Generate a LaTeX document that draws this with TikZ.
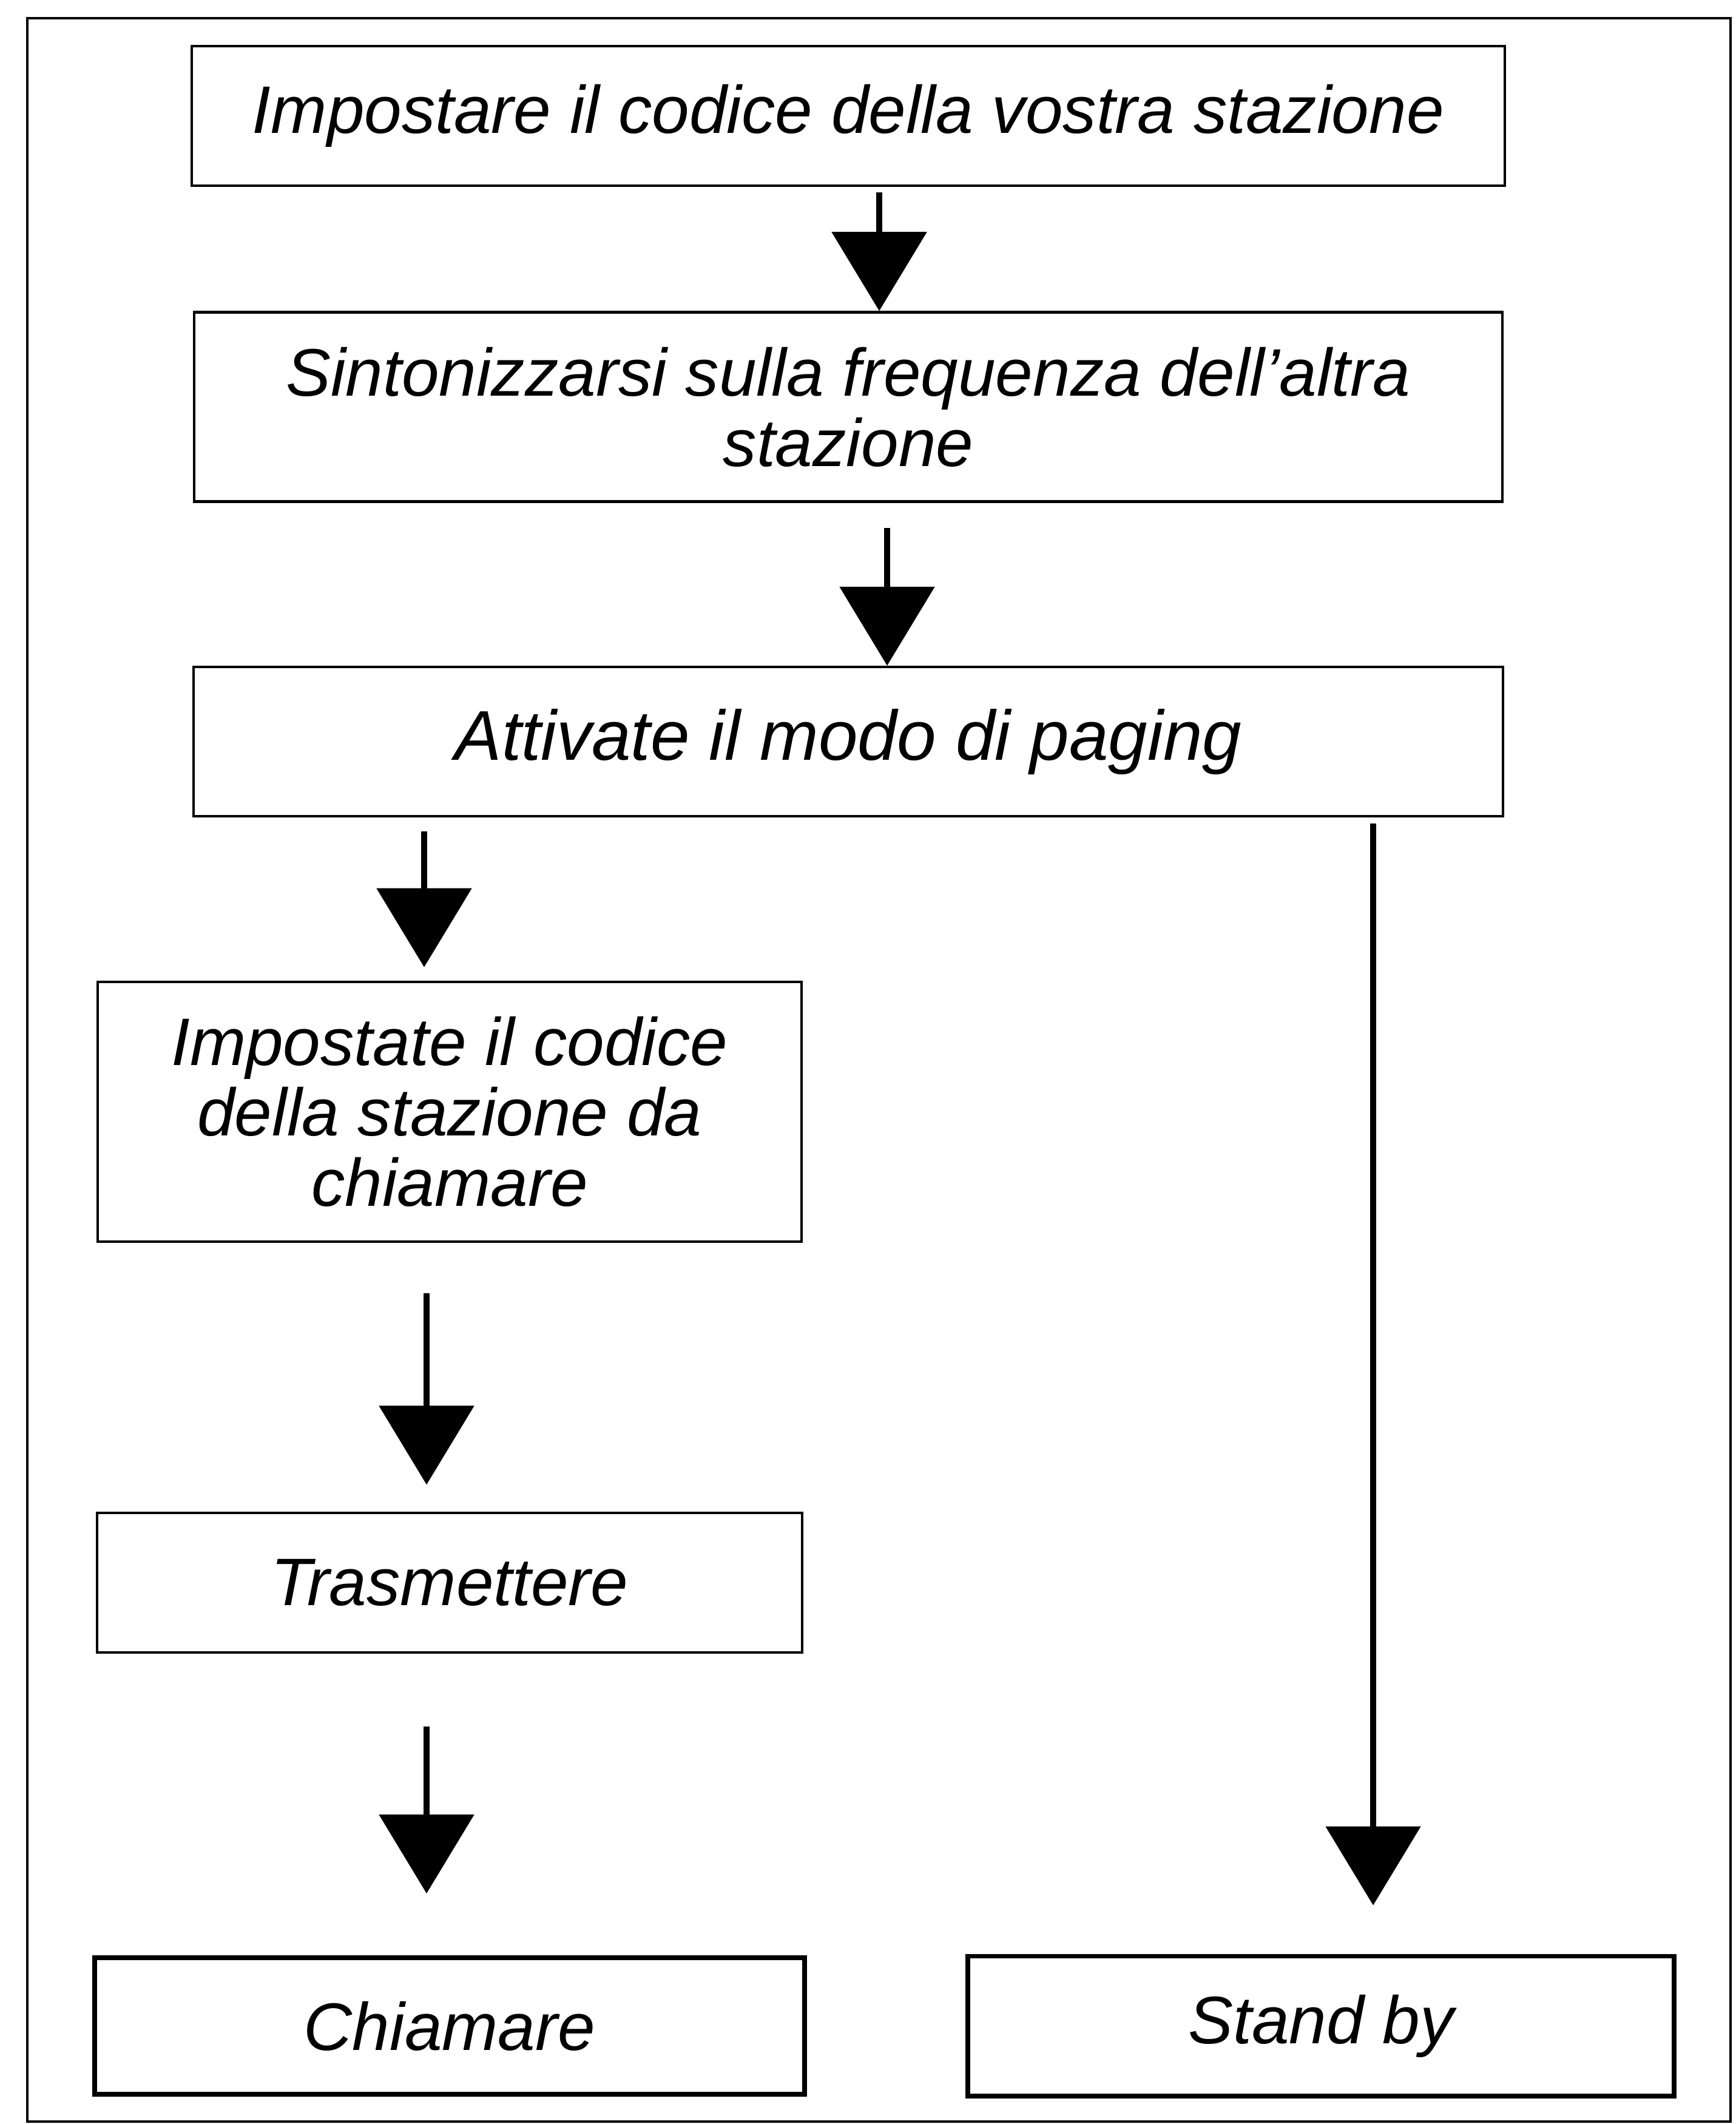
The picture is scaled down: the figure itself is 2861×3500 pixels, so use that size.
\documentclass[tikz,border=0pt]{standalone}
\usepackage{fontspec}
\setmainfont{Liberation Sans}
\usetikzlibrary{arrows.meta,positioning}

\begin{document}
\begin{tikzpicture}[
  x=0.01cm, y=-0.01cm,
  font=\fontsize{31.5}{33}\selectfont\itshape,
  stepbox/.style={draw,line width=1.2pt,inner sep=0pt,align=center,minimum height=2.3cm,fill=white},
  endbox/.style={stepbox,line width=2.2pt},
  flow/.style={-{Triangle[length=1.3cm,width=1.55cm]},line width=2.6pt}
]
\useasboundingbox (0,0) rectangle (2861,3500);
\draw[line width=1.1pt] (45,30) rectangle (2852,3496);

% main column
\node[stepbox,minimum width=21.63cm] (code) at (1398,191) {Impostare il codice della vostra stazione};
\node[stepbox,minimum width=21.55cm,minimum height=3.12cm,below=2.04cm of code] (tune) {Sintonizzarsi sulla frequenza dell'altra\\stazione};
\node[stepbox,minimum width=21.56cm,minimum height=2.46cm,below=2.68cm of tune,
  font=\fontsize{33}{35}\selectfont\itshape] (paging) {Attivate il modo di paging};

% left branch
\node[stepbox,minimum width=11.6cm,minimum height=4.28cm] (dest) at (741,1832) {Impostate il codice\\della stazione da\\chiamare};
\node[stepbox,minimum width=11.61cm,below=4.42cm of dest] (tx) {Trasmettere};
\node[endbox,minimum width=11.7cm,minimum height=2.25cm,below=4.97cm of tx] (call) {Chiamare};

% right branch
\node[endbox,minimum width=11.63cm,right=2.61cm of call] (standby) {Stand by};

\coordinate (s1) at (1449,317);
\coordinate (s2) at (1462,870);
\coordinate (s3) at (699,1370);
\coordinate (s4) at (703,2131);
\coordinate (s5) at (703,2845);
\coordinate (s6) at (2263,1357);

\draw[flow] (s1) -- (s1 |- tune.north);
\draw[flow] (s2) -- (s2 |- paging.north);
\draw[flow,shorten >=0.22cm] (s3) -- (s3 |- dest.north);
\draw[flow,shorten >=0.44cm] (s4) -- (s4 |- tx.north);
\draw[flow,shorten >=1.02cm] (s5) -- (s5 |- call.north);
\draw[flow,shorten >=0.8cm] (s6) -- (s6 |- standby.north);
\end{tikzpicture}
\end{document}
